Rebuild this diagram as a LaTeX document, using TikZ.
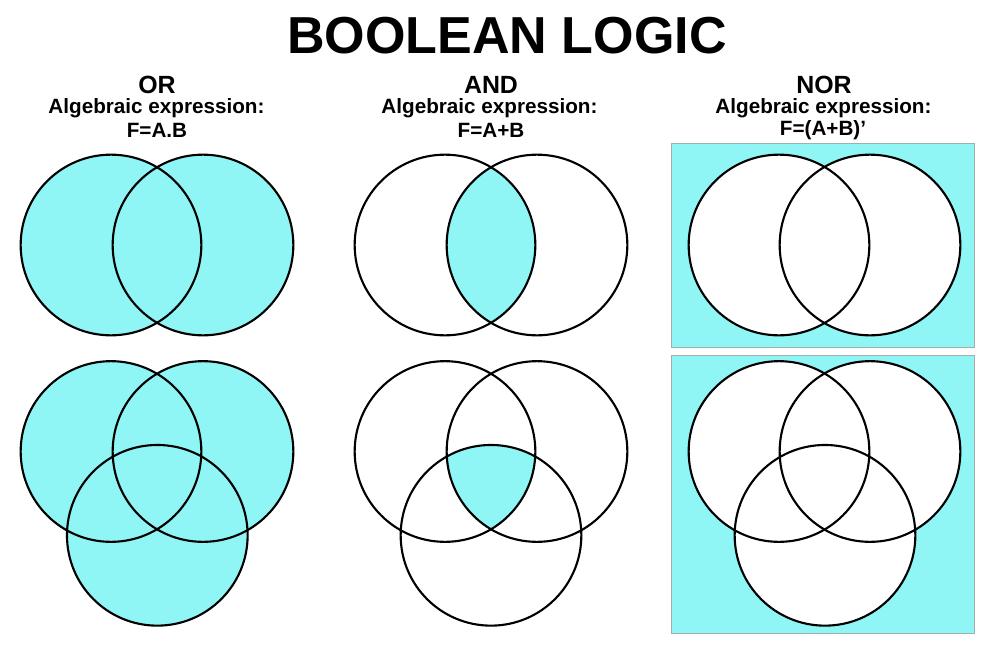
\documentclass[tikz,border=0pt]{standalone}
\usepackage{fontspec}
\setmainfont{Liberation Sans}
\definecolor{fillc}{HTML}{90F5F5}
\definecolor{boxe}{HTML}{A0AEAE}
\tikzset{
  x=0.06cm,y=-0.06cm,
  ring/.style={draw=black,line width=3.6pt},
  zone/.style={fill=fillc,draw=none},
  box/.style={fill=fillc,draw=boxe,line width=1.3pt},
  ttl/.style={font=\fontsize{88.8}{92}\selectfont\bfseries,inner sep=0pt},
  hd/.style={font=\fontsize{42.5}{44}\selectfont\bfseries,inner sep=0pt},
  sub/.style={font=\fontsize{35.3}{38}\selectfont\bfseries,inner sep=0pt}
}
\newcommand{\rr}{5.42cm}
\begin{document}
\begin{tikzpicture}
\useasboundingbox (0,0) rectangle (1000,667);
\node[ttl] (title) at (507,36) {BOOLEAN LOGIC};
% column headers
\node[hd] (h1) at (157,85) {OR};
\node[sub] (s1a) at (156.5,108) {Algebraic expression:};
\node[sub] (s1b) at (157,130) {F=A.B};
\node[hd] (h2) at (491,85) {AND};
\node[sub] (s2a) at (489.5,108) {Algebraic expression:};
\node[sub] (s2b) at (491,130) {F=A+B};
\node[hd] (h3) at (824,85) {NOR};
\node[sub] (s3a) at (823.5,108) {Algebraic expression:};
\node[sub] (s3b) at (823,130) {F=(A+B)’};
% OR, two sets
\fill[zone] (111,245) circle[radius=\rr];
\fill[zone] (203,245) circle[radius=\rr];
\draw[ring] (111,245) circle[radius=\rr];
\draw[ring] (203,245) circle[radius=\rr];
% OR, three sets
\fill[zone] (111,451.5) circle[radius=\rr];
\fill[zone] (203,451.5) circle[radius=\rr];
\fill[zone] (157.3,535.3) circle[radius=\rr];
\draw[ring] (111,451.5) circle[radius=\rr];
\draw[ring] (203,451.5) circle[radius=\rr];
\draw[ring] (157.3,535.3) circle[radius=\rr];
% AND, two sets
\begin{scope}
\clip (445,245) circle[radius=\rr];
\fill[zone] (537,245) circle[radius=\rr];
\end{scope}
\draw[ring] (445,245) circle[radius=\rr];
\draw[ring] (537,245) circle[radius=\rr];
% AND, three sets
\begin{scope}
\clip (445,451.5) circle[radius=\rr];
\clip (537,451.5) circle[radius=\rr];
\fill[zone] (491,535.3) circle[radius=\rr];
\end{scope}
\draw[ring] (445,451.5) circle[radius=\rr];
\draw[ring] (537,451.5) circle[radius=\rr];
\draw[ring] (491,535.3) circle[radius=\rr];
% NOR, two sets
\draw[box] (671,143) rectangle (974,347);
\fill[white] (779,245) circle[radius=\rr];
\fill[white] (870,245) circle[radius=\rr];
\draw[ring] (779,245) circle[radius=\rr];
\draw[ring] (870,245) circle[radius=\rr];
% NOR, three sets
\draw[box] (671,355) rectangle (974,633);
\fill[white] (779,451.5) circle[radius=\rr];
\fill[white] (870,451.5) circle[radius=\rr];
\fill[white] (825,535.3) circle[radius=\rr];
\draw[ring] (779,451.5) circle[radius=\rr];
\draw[ring] (870,451.5) circle[radius=\rr];
\draw[ring] (825,535.3) circle[radius=\rr];
\end{tikzpicture}
\end{document}
